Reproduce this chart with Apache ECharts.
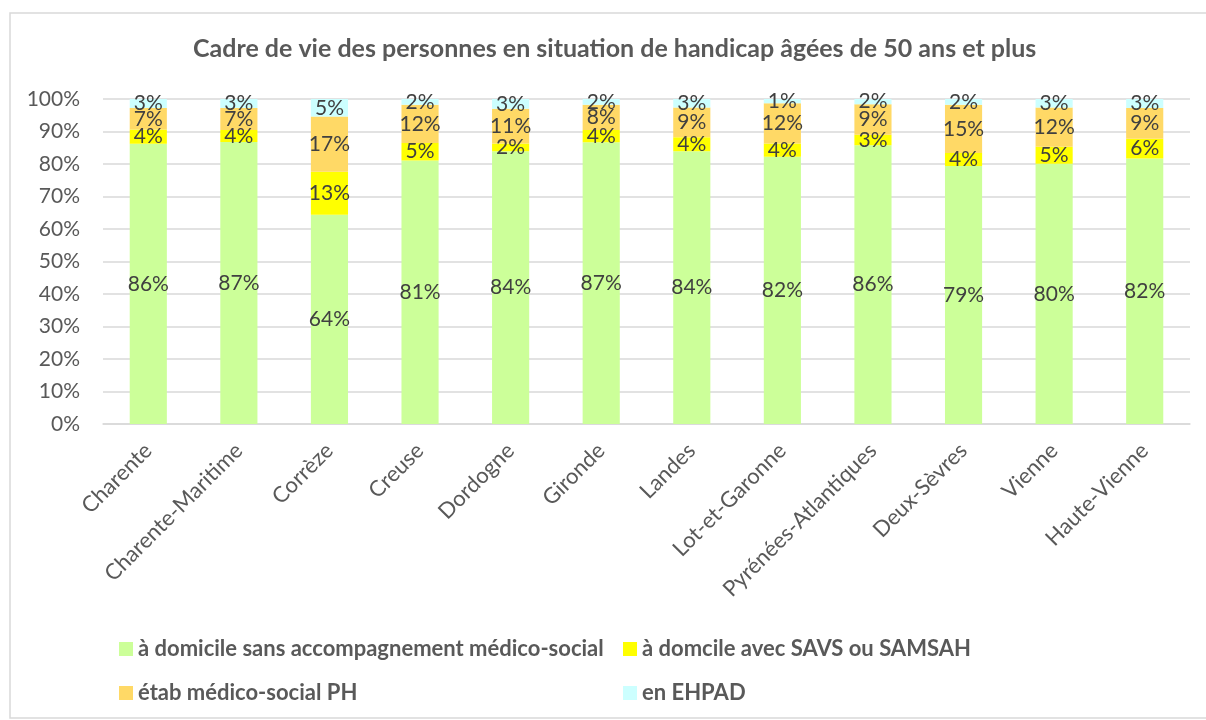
<!DOCTYPE html>
<html>
<head>
<meta charset="utf-8">
<script src="https://cdn.jsdelivr.net/npm/echarts@6/dist/echarts.min.js"></script>
<style>
	html, body { margin: 0; padding: 0; background: #fff; }
	#canvas { width: 1206px; height: 720px; }
</style>
</head>
<body>
<div id="canvas"></div>
<script>
// données (en %)
var departements = ['Charente', 'Charente-Maritime', 'Corrèze', 'Creuse', 'Dordogne', 'Gironde',
	'Landes', 'Lot-et-Garonne', 'Pyrénées-Atlantiques', 'Deux-Sèvres', 'Vienne', 'Haute-Vienne'];
var domicileSans = [86.2, 86.8, 64.4, 81.1, 83.9, 86.7, 83.9, 82.2, 85.8, 79.4, 80.1, 81.7];
var domicileSavs = [4.4, 3.7, 13.2, 5.4, 2.4, 3.8, 4.3, 4.1, 3.2, 4.0, 5.2, 6.1];
var etabPH = [6.6, 6.7, 17.0, 11.7, 10.7, 7.7, 9.2, 12.4, 9.4, 14.8, 12.1, 9.4];
var ehpad = [2.8, 2.8, 5.4, 1.8, 3.0, 1.8, 2.6, 1.3, 1.6, 1.8, 2.6, 2.8];
var yTicks = [0, 10, 20, 30, 40, 50, 60, 70, 80, 90, 100];

var nomsSeries = ['à domicile sans accompagnement médico-social', 'à domcile avec SAVS ou SAMSAH',
	'étab médico-social PH', 'en EHPAD'];
var couleurs = ['#ccff99', '#ffff00', '#ffd966', '#ccffff'];
var valeurs = [domicileSans, domicileSavs, etabPH, ehpad];

var police = 'Lato, "Open Sans", sans-serif';

var myChart = echarts.init(document.getElementById('canvas'));

var series = valeurs.map(function(v, i){
	return {
		name: nomsSeries[i],
		type: 'bar',
		stack: 'total',
		data: v,
		barWidth: '41%',
		itemStyle: { color: couleurs[i] },
		label: {
			show: true,
			position: 'inside',
			color: '#404040',
			fontFamily: police,
			fontSize: 21,
			formatter: function(p){ return Math.round(p.value) + '%'; }
		}
	};
});

// une légende par élément, pour placer les colonnes comme dans l'original
var legendPos = [[119, 638], [623, 638], [119, 682], [623, 682]];
var legends = nomsSeries.map(function(n, i){
	return {
		data: [n],
		left: legendPos[i][0],
		top: legendPos[i][1],
		padding: 0,
		itemWidth: 14,
		itemHeight: 14,
		icon: 'rect',
		textStyle: { color: '#595959', fontWeight: 'bold', fontSize: 22, fontFamily: police }
	};
});

var option = {
	backgroundColor: '#ffffff',
	animation: false,
	title: {
		text: 'Cadre de vie des personnes en situation de handicap âgées de 50 ans et plus',
		left: 193,
		top: 36,
		padding: 0,
		textStyle: { color: '#595959', fontWeight: 'bold', fontSize: 25, fontFamily: police }
	},
	legend: legends,
	grid: { left: 103, right: 16, top: 99, bottom: 296, containLabel: false },
	xAxis: {
		type: 'category',
		data: departements,
		axisLine: { lineStyle: { color: '#d9d9d9', width: 1.5 } },
		axisTick: { show: false },
		axisLabel: {
			rotate: 45,
			interval: 0,
			margin: 23,
			color: '#595959',
			fontSize: 22,
			fontFamily: police
		}
	},
	yAxis: {
		type: 'value',
		min: yTicks[0],
		max: yTicks[yTicks.length - 1],
		interval: yTicks[1] - yTicks[0],
		axisLine: { show: false },
		axisTick: { show: false },
		splitLine: { lineStyle: { color: '#d9d9d9', width: 1.5 } },
		axisLabel: {
			formatter: '{value}%',
			margin: 23,
			color: '#595959',
			fontSize: 21,
			fontFamily: police
		}
	},
	graphic: [{
		type: 'rect',
		shape: { x: 10, y: 13, width: 1200, height: 705 },
		style: { fill: 'none', stroke: '#d9d9d9', lineWidth: 1.5 },
		silent: true
	}],
	series: series
};

myChart.setOption(option);
</script>
</body>
</html>
